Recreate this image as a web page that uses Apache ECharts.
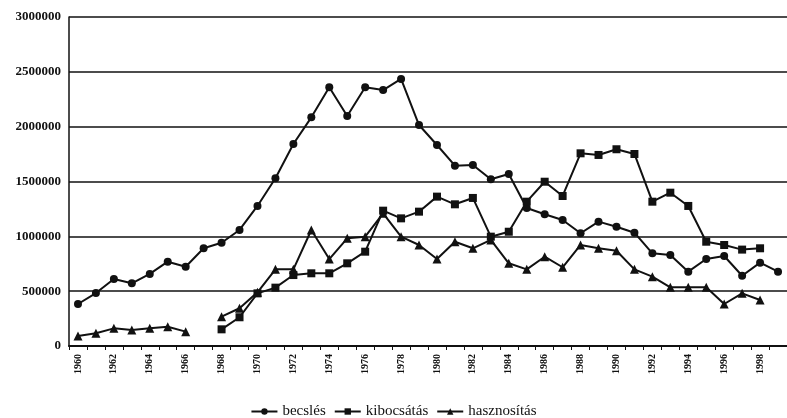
<!DOCTYPE html>
<html>
<head>
<meta charset="utf-8">
<script src="https://cdn.jsdelivr.net/npm/echarts@6/dist/echarts.min.js"></script>
<style>
  html, body { margin: 0; padding: 0; background: #fff; }
  #chart { width: 787px; height: 418px; }
</style>
</head>
<body>
<div id="chart"></div>
<script>
// 年份 1960–1999
const years = [];
for (let y = 1960; y <= 1999; y++) years.push(String(y));

const becsles = [
  383000, 483000, 611000, 572000, 657000, 769000, 723000, 891000, 942000, 1058000,
  1277000, 1529000, 1842000, 2085000, 2359000, 2097000, 2359000, 2334000, 2435000, 2015000,
  1833000, 1644000, 1650000, 1520000, 1569000, 1258000, 1201000, 1149000, 1028000, 1134000,
  1088000, 1033000, 845000, 830000, 678000, 793000, 821000, 641000, 760000, 678000
];

const kibocsatas = [
  null, null, null, null, null, null, null, null, 152000, 262000,
  480000, 532000, 647000, 663000, 663000, 754000, 860000, 1234000, 1164000, 1225000,
  1362000, 1292000, 1350000, 997000, 1042000, 1316000, 1498000, 1368000, 1757000, 1742000,
  1794000, 1751000, 1316000, 1398000, 1277000, 951000, 921000, 879000, 891000, null
];

const hasznositas = [
  91000, 116000, 161000, 146000, 161000, 176000, 131000, null, 267000, 344000,
  490000, 699000, 699000, 1058000, 793000, 982000, 997000, 1210000, 997000, 921000,
  793000, 951000, 891000, 967000, 754000, 699000, 814000, 718000, 921000, 891000,
  869000, 699000, 632000, 535000, 535000, 535000, 383000, 480000, 419000, null
];

const seriesNames = ['becslés', 'kibocsátás', 'hasznosítás'];

const chart = echarts.init(document.getElementById('chart'));

function lineSeries(name, data, symbol, size) {
  return {
    name,
    type: 'line',
    data,
    symbol,
    symbolSize: size,
    connectNulls: false,
    lineStyle: { color: '#111', width: 2 },
    itemStyle: { color: '#111' },
    emphasis: { disabled: true },
    animation: false
  };
}

chart.setOption({
  animation: false,
  textStyle: { fontFamily: 'Liberation Serif', color: '#111' },
  grid: { left: 69, right: -2, top: 17, bottom: 72 },
  legend: {
    data: seriesNames,
    top: 399,
    left: 'center',
    itemWidth: 26,
    itemHeight: 8,
    itemGap: 8,
    textStyle: { fontSize: 15, color: '#111', fontFamily: 'Liberation Serif' }
  },
  xAxis: {
    type: 'category',
    data: years,
    boundaryGap: true,
    axisLine: { lineStyle: { color: '#111', width: 2 } },
    axisTick: { show: true, interval: 0, length: 4, lineStyle: { color: '#111' } },
    axisLabel: {
      interval: 1,
      rotate: 90,
      fontSize: 10,
      fontWeight: 'bold',
      color: '#111',
      margin: 8
    }
  },
  yAxis: {
    type: 'value',
    min: 0,
    max: 3000000,
    interval: 500000,
    axisLine: { show: true, lineStyle: { color: '#111', width: 1.5 } },
    axisTick: { show: false },
    splitLine: { lineStyle: { color: '#111', width: 1.5 } },
    axisLabel: {
      fontSize: 13,
      fontWeight: 'bold',
      color: '#111',
      margin: 8,
      formatter: v => String(v)
    }
  },
  series: [
    lineSeries('becslés', becsles, 'circle', 8),
    lineSeries('kibocsátás', kibocsatas, 'rect', 8),
    lineSeries('hasznosítás', hasznositas, 'triangle', 9)
  ]
});
</script>
</body>
</html>
